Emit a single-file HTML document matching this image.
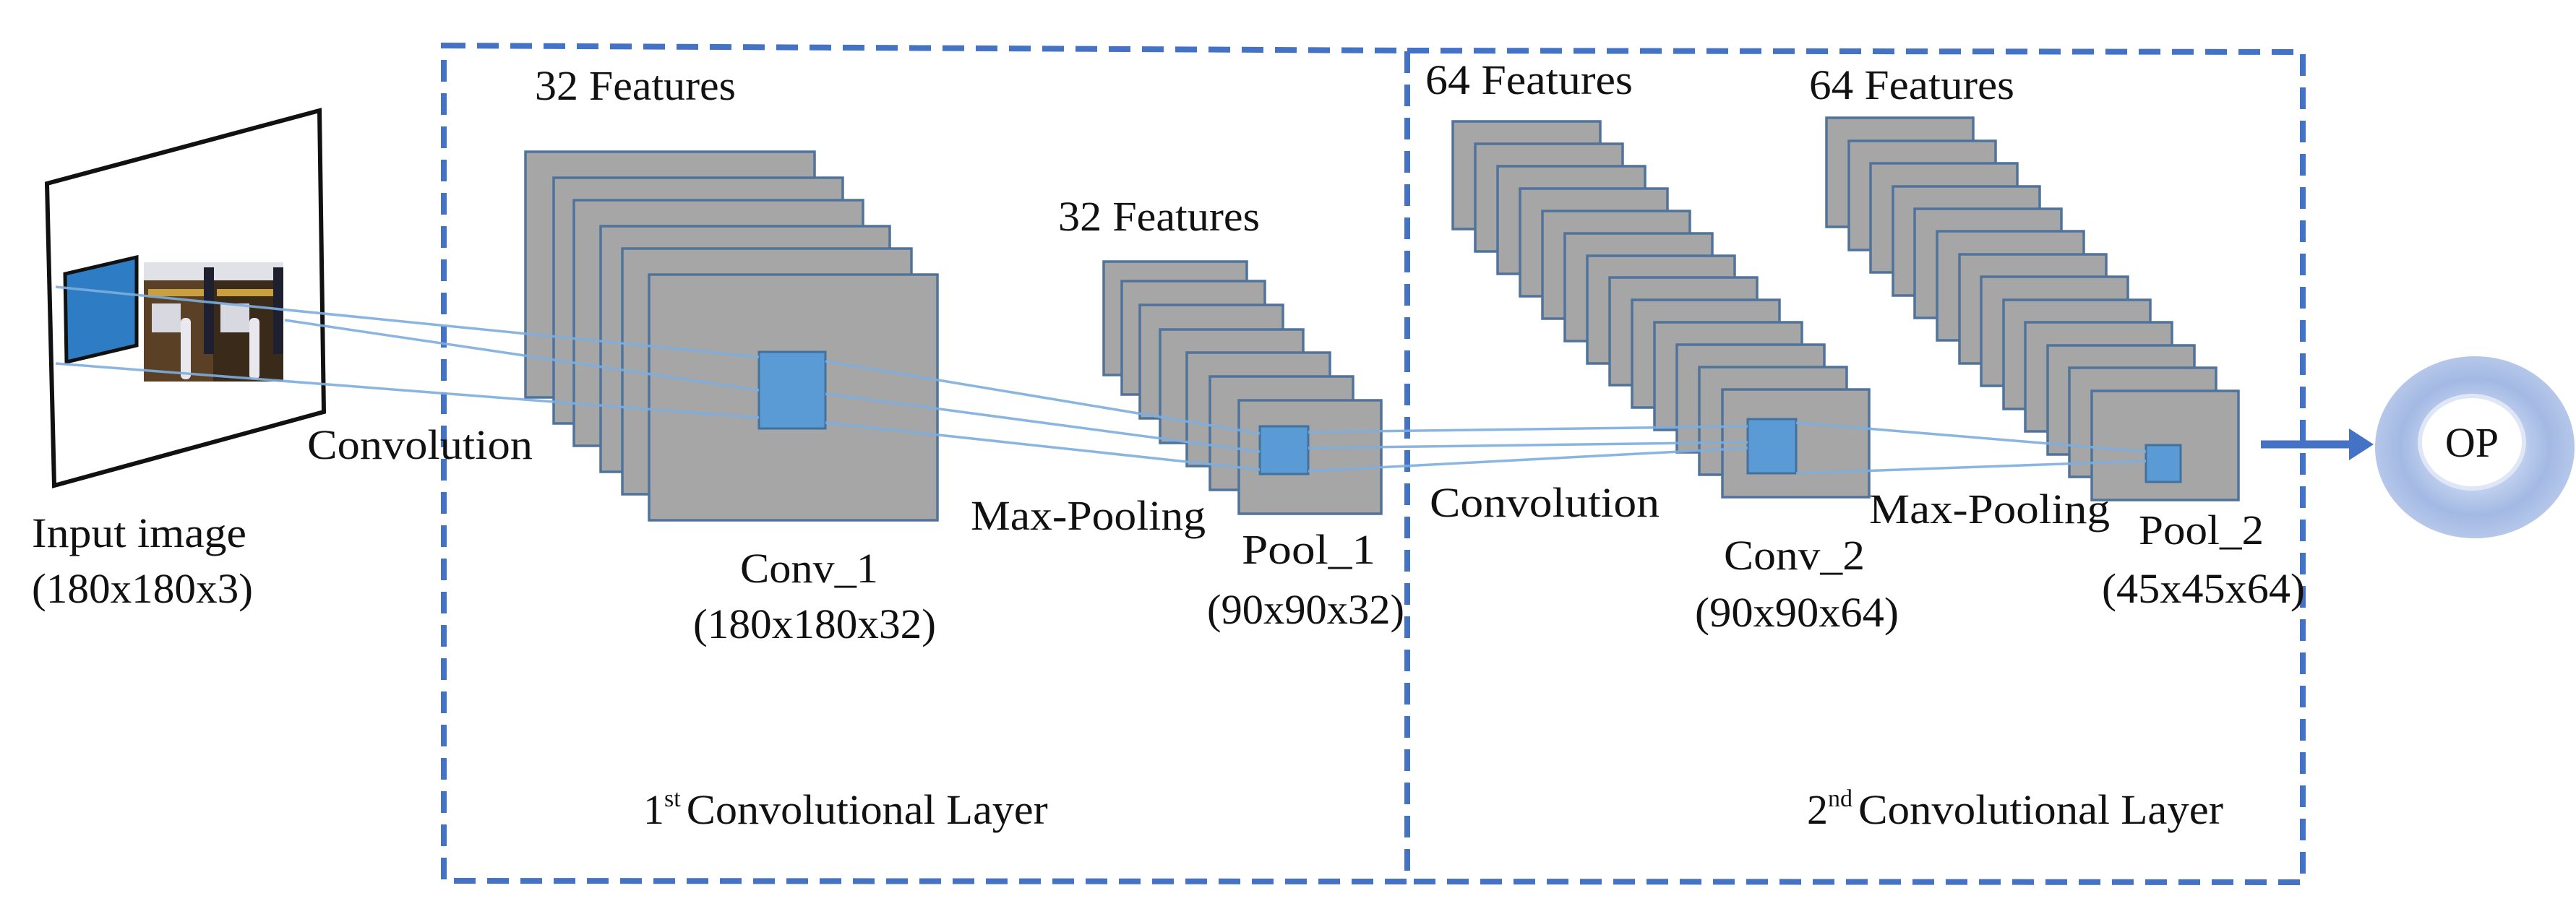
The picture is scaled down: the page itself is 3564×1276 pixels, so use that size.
<!DOCTYPE html>
<html><head><meta charset="utf-8"><style>
html,body{margin:0;padding:0;background:#fff;}
svg{display:block;}
text{font-family:"Liberation Serif",serif;fill:#111;}
</style></head><body>
<svg width="3564" height="1276" viewBox="0 0 3564 1276" xmlns="http://www.w3.org/2000/svg">
<defs>
<radialGradient id="og" cx="0.5" cy="0.5" r="0.5">
<stop offset="0.45" stop-color="#c2d2ef"/>
<stop offset="0.75" stop-color="#a3b9e4"/>
<stop offset="1" stop-color="#b5c7ea"/>
</radialGradient>
</defs>
<rect width="3564" height="1276" fill="#fff"/>

<g fill="none" stroke="#4472c4" stroke-width="8" stroke-dasharray="30 16">
<path d="M614 63 L1947 70 L1947 1220 L614 1219 Z"/>
<path d="M1947 70 L3186 72 L3186 1221 L1947 1220"/>
</g>

<polygon points="65,254 442,153 448,570 75,672" fill="#fff" stroke="#111" stroke-width="6"/>
<polygon points="90,379 189,356 189,478 92,501" fill="#2e7dc4" stroke="#111" stroke-width="5"/>
<rect x="199" y="363" width="193" height="165" fill="#3a2a1a"/>
<rect x="199" y="363" width="96" height="165" fill="#5a4024"/>
<rect x="205" y="400" width="80" height="10" fill="#c8a040"/>
<rect x="300" y="400" width="80" height="10" fill="#c8a040"/>
<rect x="210" y="420" width="40" height="40" fill="#d8d8e0"/>
<rect x="305" y="420" width="40" height="40" fill="#d8d8e0"/>
<rect x="250" y="440" width="14" height="85" rx="6" fill="#e8e8ee"/>
<rect x="345" y="440" width="14" height="85" rx="6" fill="#e8e8ee"/>
<rect x="199" y="363" width="193" height="25" fill="#e0e2e8"/>
<rect x="282" y="370" width="14" height="120" fill="#1e2030"/>
<rect x="378" y="370" width="14" height="120" fill="#1e2030"/>

<g fill="#a6a6a6" stroke="#4f739a" stroke-width="3.5">
<rect x="727" y="210" width="400" height="340"/>
<rect x="766" y="246" width="400" height="340"/>
<rect x="794" y="277" width="400" height="340"/>
<rect x="831" y="313" width="400" height="340"/>
<rect x="861" y="344" width="400" height="340"/>
<rect x="898" y="380" width="399" height="340"/>
</g>
<rect x="1050" y="487" width="92" height="106" fill="#5b9bd5" stroke="#41719c" stroke-width="3"/>

<g fill="#a6a6a6" stroke="#4f739a" stroke-width="3.5">
<rect x="1527" y="362" width="198" height="157"/>
<rect x="1552" y="389" width="198" height="157"/>
<rect x="1577" y="422" width="198" height="157"/>
<rect x="1605" y="456" width="198" height="157"/>
<rect x="1642" y="488" width="198" height="157"/>
<rect x="1674" y="521" width="198" height="157"/>
<rect x="1714" y="554" width="197" height="157"/>
</g>
<rect x="1743" y="590" width="67" height="66" fill="#5b9bd5" stroke="#41719c" stroke-width="3"/>

<g fill="#a6a6a6" stroke="#4f739a" stroke-width="3.5">
<rect x="2010" y="168" width="204" height="149"/>
<rect x="2041" y="199" width="204" height="149"/>
<rect x="2072" y="230" width="204" height="149"/>
<rect x="2103" y="261" width="204" height="149"/>
<rect x="2134" y="292" width="204" height="149"/>
<rect x="2165" y="323" width="204" height="149"/>
<rect x="2196" y="354" width="204" height="149"/>
<rect x="2227" y="384" width="204" height="149"/>
<rect x="2258" y="415" width="204" height="149"/>
<rect x="2289" y="446" width="204" height="149"/>
<rect x="2320" y="477" width="204" height="149"/>
<rect x="2351" y="508" width="204" height="149"/>
<rect x="2383" y="539" width="203" height="149"/>
</g>
<rect x="2418" y="580" width="67" height="75" fill="#5b9bd5" stroke="#41719c" stroke-width="3"/>

<g fill="#a6a6a6" stroke="#4f739a" stroke-width="3.5">
<rect x="2527" y="163" width="203" height="151"/>
<rect x="2558" y="195" width="203" height="151"/>
<rect x="2588" y="226" width="203" height="151"/>
<rect x="2619" y="258" width="203" height="151"/>
<rect x="2649" y="289" width="203" height="151"/>
<rect x="2680" y="320" width="203" height="151"/>
<rect x="2711" y="352" width="203" height="151"/>
<rect x="2741" y="383" width="203" height="151"/>
<rect x="2772" y="415" width="203" height="151"/>
<rect x="2802" y="446" width="203" height="151"/>
<rect x="2833" y="478" width="203" height="151"/>
<rect x="2863" y="509" width="203" height="151"/>
<rect x="2894" y="541" width="203" height="151"/>
</g>
<rect x="2969" y="616" width="48" height="51" fill="#5b9bd5" stroke="#41719c" stroke-width="3"/>

<g stroke="#7eaede" stroke-width="3.5" fill="none" opacity="0.9">
<line x1="77" y1="397" x2="1050" y2="494"/>
<line x1="394" y1="443" x2="1050" y2="540"/>
<line x1="77" y1="503" x2="1050" y2="578"/>
<line x1="1142" y1="500" x2="1743" y2="600"/>
<line x1="1142" y1="545" x2="1743" y2="625"/>
<line x1="1142" y1="585" x2="1743" y2="650"/>
<line x1="1810" y1="598" x2="2418" y2="590"/>
<line x1="1810" y1="620" x2="2418" y2="612"/>
<line x1="1810" y1="652" x2="2418" y2="620"/>
<line x1="2485" y1="585" x2="2969" y2="625"/>
<line x1="2485" y1="655" x2="2969" y2="638"/>
</g>

<line x1="3128" y1="615" x2="3255" y2="615" stroke="#4472c4" stroke-width="11"/>
<polygon points="3250,593 3284,615 3250,637" fill="#4472c4"/>

<ellipse cx="3424" cy="619" rx="138" ry="126" fill="url(#og)"/>
<ellipse cx="3420" cy="612" rx="72" ry="64" fill="#fff" stroke="#dfe7f6" stroke-width="6"/>
<text x="3420" y="632" font-size="58" text-anchor="middle">OP</text>

<g font-size="58">
<text x="740" y="138" textLength="278" lengthAdjust="spacingAndGlyphs">32 Features</text>
<text x="1464" y="319" textLength="279" lengthAdjust="spacingAndGlyphs">32 Features</text>
<text x="1972" y="130" textLength="287" lengthAdjust="spacingAndGlyphs">64 Features</text>
<text x="2503" y="137" textLength="284" lengthAdjust="spacingAndGlyphs">64 Features</text>
<text x="425" y="635" textLength="312" lengthAdjust="spacingAndGlyphs">Convolution</text>
<text x="1978" y="715" textLength="318" lengthAdjust="spacingAndGlyphs">Convolution</text>
<text x="1343" y="733" textLength="325" lengthAdjust="spacingAndGlyphs">Max-Pooling</text>
<text x="2586" y="724" textLength="333" lengthAdjust="spacingAndGlyphs">Max-Pooling</text>
<text x="44" y="757" textLength="297" lengthAdjust="spacingAndGlyphs">Input image</text>
<text x="44" y="834" textLength="306" lengthAdjust="spacingAndGlyphs">(180x180x3)</text>
<text x="1024" y="806" textLength="191" lengthAdjust="spacingAndGlyphs">Conv_1</text>
<text x="959" y="883" textLength="336" lengthAdjust="spacingAndGlyphs">(180x180x32)</text>
<text x="1718" y="780" textLength="185" lengthAdjust="spacingAndGlyphs">Pool_1</text>
<text x="1670" y="863" textLength="273" lengthAdjust="spacingAndGlyphs">(90x90x32)</text>
<text x="2385" y="788" textLength="195" lengthAdjust="spacingAndGlyphs">Conv_2</text>
<text x="2345" y="867" textLength="282" lengthAdjust="spacingAndGlyphs">(90x90x64)</text>
<text x="2959" y="753" textLength="173" lengthAdjust="spacingAndGlyphs">Pool_2</text>
<text x="2908" y="834" textLength="281" lengthAdjust="spacingAndGlyphs">(45x45x64)</text>
<text x="890" y="1140">1<tspan font-size="34" dy="-24">st</tspan><tspan dy="24" dx="8" textLength="500" lengthAdjust="spacingAndGlyphs">Convolutional Layer</tspan></text>
<text x="2500" y="1140">2<tspan font-size="34" dy="-24">nd</tspan><tspan dy="24" dx="8" textLength="505" lengthAdjust="spacingAndGlyphs">Convolutional Layer</tspan></text>
</g>
</svg>
</body></html>
